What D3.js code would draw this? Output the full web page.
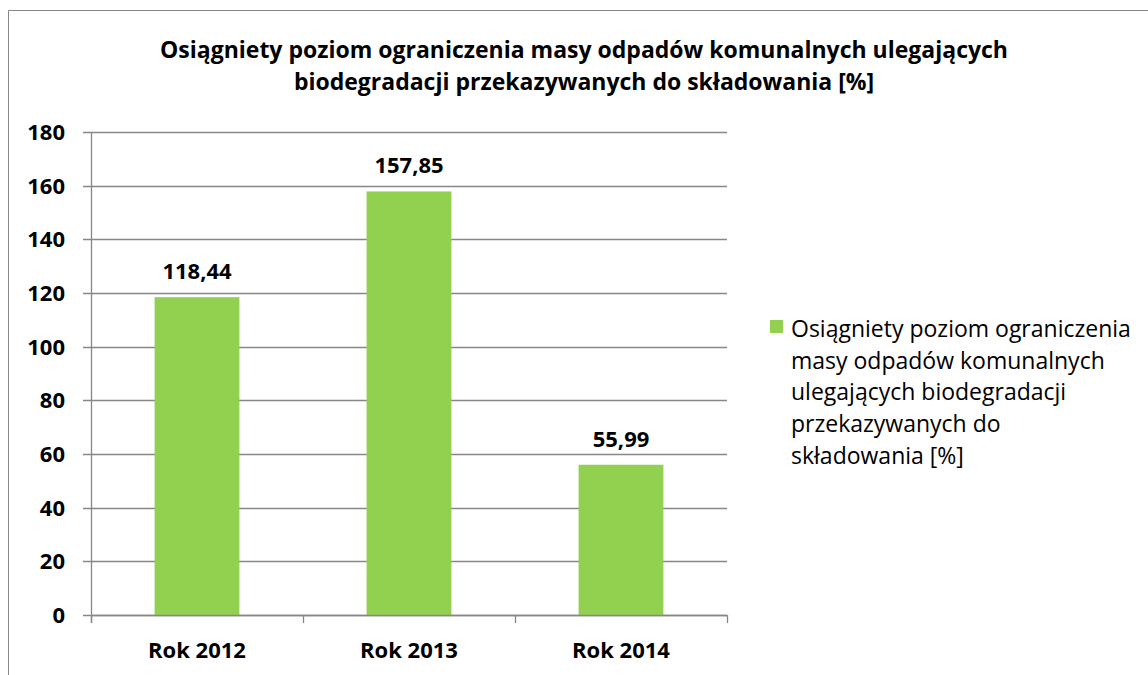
<!DOCTYPE html>
<html>
<head>
  <meta charset="utf-8">
  <title>Osiągniety poziom ograniczenia</title>
  <script src="https://d3js.org/d3.v7.min.js"></script>
  <style>
    body { margin: 0; background: #fff; }
    svg { display: block; font-family: "Open Sans", "Noto Sans", sans-serif; }
  </style>
</head>
<body>
  <svg id="chart" width="1148" height="675"></svg>
  <script>
    // dane
    const categories = ["Rok 2012", "Rok 2013", "Rok 2014"];
    const values = [118.44, 157.85, 55.99];
    const valueLabels = ["118,44", "157,85", "55,99"];
    const yTicks = [0, 20, 40, 60, 80, 100, 120, 140, 160, 180];
    const titleLines = [
      "Osiągniety poziom ograniczenia masy odpadów komunalnych ulegających",
      "biodegradacji przekazywanych do składowania [%]"
    ];
    const legendLines = [
      "Osiągniety poziom ograniczenia",
      "masy odpadów komunalnych",
      "ulegających biodegradacji",
      "przekazywanych do",
      "składowania [%]"
    ];

    const svg = d3.select("#chart");
    const green = "#92d050";
    const grid = "#878787";

    // ramka (widoczne tylko lewa i górna krawędź)
    svg.append("line").attr("x1", 8.5).attr("y1", 10.5).attr("x2", 1148).attr("y2", 10.5)
      .attr("stroke", grid).attr("stroke-width", 1);
    svg.append("line").attr("x1", 8.5).attr("y1", 10.5).attr("x2", 8.5).attr("y2", 675)
      .attr("stroke", grid).attr("stroke-width", 1);

    // tytuł
    svg.append("g").selectAll("text")
      .data(titleLines)
      .enter()
      .append("text")
      .attr("x", 584)
      .attr("y", (d, i) => 58 + i * 32)
      .attr("text-anchor", "middle")
      .style("font-size", "23px")
      .style("font-weight", "bold")
      .style("fill", "#000")
      .text(d => d);

    const pLeft = 91, pRight = 727, pTop = 132, pBottom = 615;

    const x = d3.scaleBand().domain(categories).range([pLeft, pRight])
      .paddingInner(0.6).paddingOuter(0.3);
    const xCat = d3.scaleBand().domain(categories).range([pLeft, pRight]);
    const y = d3.scaleLinear().domain([0, 180]).range([pBottom, pTop]);

    // linie siatki
    svg.append("g").selectAll("line")
      .data(yTicks)
      .enter()
      .append("line")
      .attr("x1", pLeft - 8)
      .attr("x2", pRight)
      .attr("y1", d => Math.round(y(d)) + 0.5)
      .attr("y2", d => Math.round(y(d)) + 0.5)
      .attr("stroke", grid)
      .attr("stroke-width", 1.3);

    // słupki
    svg.append("g").selectAll("rect")
      .data(values)
      .enter()
      .append("rect")
      .attr("x", (d, i) => x(categories[i]))
      .attr("width", x.bandwidth())
      .attr("y", d => y(d))
      .attr("height", d => pBottom - y(d))
      .attr("fill", green);

    // oś Y
    svg.append("line").attr("x1", pLeft + 0.5).attr("x2", pLeft + 0.5)
      .attr("y1", pTop).attr("y2", pBottom + 8)
      .attr("stroke", grid).attr("stroke-width", 1.3);
    svg.append("g").selectAll("text")
      .data(yTicks)
      .enter()
      .append("text")
      .attr("x", 65)
      .attr("y", d => y(d) + 8)
      .attr("text-anchor", "end")
      .style("font-size", "22px")
      .style("font-weight", "bold")
      .text(d => d);

    // oś X
    svg.append("line").attr("x1", pLeft).attr("x2", pRight)
      .attr("y1", pBottom + 0.5).attr("y2", pBottom + 0.5)
      .attr("stroke", grid).attr("stroke-width", 1.3);
    const xEdges = categories.map(c => xCat(c) + xCat.bandwidth()).concat([pLeft]);
    svg.append("g").selectAll("line")
      .data(xEdges)
      .enter()
      .append("line")
      .attr("x1", d => Math.round(d) + 0.5)
      .attr("x2", d => Math.round(d) + 0.5)
      .attr("y1", pBottom)
      .attr("y2", pBottom + 8)
      .attr("stroke", grid)
      .attr("stroke-width", 1.3);
    svg.append("g").selectAll("text")
      .data(categories)
      .enter()
      .append("text")
      .attr("x", d => xCat(d) + xCat.bandwidth() / 2)
      .attr("y", 658)
      .attr("text-anchor", "middle")
      .style("font-size", "22px")
      .style("font-weight", "bold")
      .text(d => d);

    // etykiety wartości
    svg.append("g").selectAll("text")
      .data(values)
      .enter()
      .append("text")
      .attr("x", (d, i) => x(categories[i]) + x.bandwidth() / 2)
      .attr("y", d => y(d) - 18)
      .attr("text-anchor", "middle")
      .style("font-size", "22px")
      .style("font-weight", "bold")
      .text((d, i) => valueLabels[i]);

    // legenda
    const legend = svg.append("g");
    legend.append("rect").attr("x", 770).attr("y", 320).attr("width", 13).attr("height", 13).attr("fill", green);
    legend.selectAll("text")
      .data(legendLines)
      .enter()
      .append("text")
      .attr("x", 791)
      .attr("y", (d, i) => 337 + i * 31.7)
      .style("font-size", "23px")
      .text(d => d);
  </script>
</body>
</html>
